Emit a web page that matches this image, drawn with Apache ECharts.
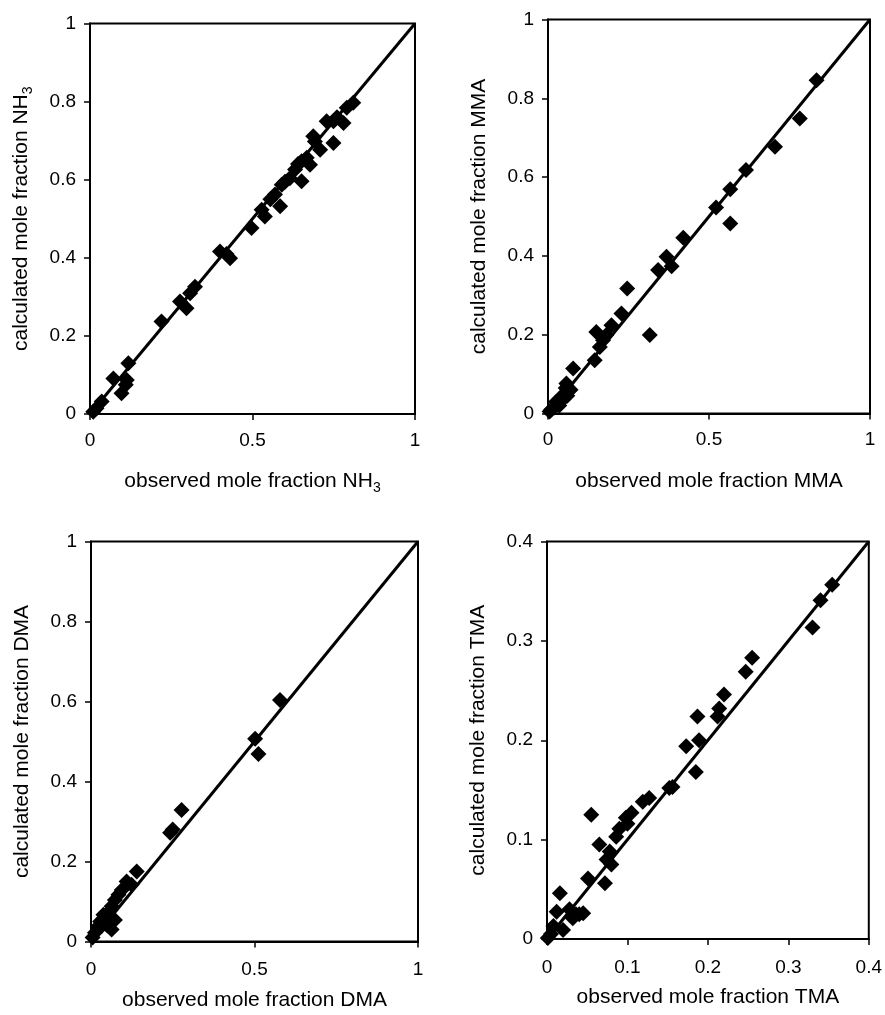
<!DOCTYPE html>
<html>
<head>
<meta charset="utf-8">
<script src="https://cdn.jsdelivr.net/npm/echarts@6/dist/echarts.min.js"></script>
<style>
html,body{margin:0;padding:0;background:#fff;}
#chart{width:885px;height:1015px;}
</style>
</head>
<body>
<div id="chart"></div>
<script>
// ---- Data ----
const nh3Obs  = [0.01,0.02,0.036,0.072,0.097,0.113,0.118,0.11,0.22,0.277,0.297,0.308,0.323,0.40,0.431,0.42,0.497,0.528,0.538,0.569,0.585,0.59,0.615,0.60,0.631,0.651,0.651,0.667,0.677,0.687,0.692,0.708,0.728,0.749,0.749,0.76,0.78,0.79,0.81,0.64,0.555];
const nh3Calc = [0.006,0.015,0.032,0.091,0.053,0.087,0.13,0.075,0.237,0.288,0.271,0.309,0.326,0.416,0.399,0.41,0.476,0.523,0.506,0.562,0.532,0.587,0.604,0.595,0.626,0.647,0.596,0.656,0.638,0.711,0.698,0.677,0.75,0.75,0.694,0.76,0.745,0.784,0.797,0.64,0.55];

const mmaObs  = [0.005,0.01,0.02,0.03,0.04,0.05,0.057,0.067,0.078,0.145,0.161,0.171,0.181,0.15,0.197,0.228,0.246,0.316,0.342,0.368,0.384,0.42,0.522,0.566,0.566,0.615,0.705,0.782,0.834,0.035,0.045,0.06,0.07,0.055,0.025];
const mmaCalc = [0.005,0.01,0.015,0.025,0.04,0.05,0.076,0.059,0.114,0.135,0.169,0.186,0.199,0.207,0.224,0.254,0.317,0.199,0.364,0.398,0.374,0.446,0.523,0.569,0.482,0.618,0.677,0.749,0.846,0.02,0.035,0.045,0.06,0.065,0.03];

const dmaObs  = [0.005,0.012,0.022,0.028,0.038,0.042,0.052,0.063,0.073,0.084,0.094,0.109,0.124,0.14,0.242,0.25,0.277,0.502,0.512,0.578,0.063,0.073,0.05,0.032];
const dmaCalc = [0.01,0.022,0.038,0.05,0.067,0.055,0.072,0.088,0.104,0.117,0.129,0.15,0.142,0.175,0.272,0.28,0.329,0.507,0.469,0.604,0.03,0.054,0.04,0.038];

const tmaObs  = [0.001,0.005,0.008,0.02,0.012,0.016,0.032,0.036,0.045,0.051,0.072,0.074,0.08,0.078,0.055,0.065,0.086,0.09,0.098,0.105,0.119,0.127,0.152,0.156,0.185,0.173,0.189,0.187,0.212,0.214,0.22,0.247,0.255,0.33,0.34,0.3545,0.1,0.028,0.04];
const tmaCalc = [0.001,0.005,0.013,0.009,0.0275,0.046,0.021,0.025,0.026,0.061,0.056,0.08,0.075,0.088,0.125,0.095,0.103,0.111,0.122,0.127,0.138,0.142,0.152,0.153,0.168,0.194,0.2,0.224,0.224,0.232,0.246,0.269,0.283,0.3135,0.341,0.3565,0.116,0.03,0.025];

// 1:1 reference lines
const diagUnit = [0, 1];
const diagTma  = [0, 0.4];

// Species names used in axis titles
const species = ['NH3','MMA','DMA','TMA'];

// ---- Build ----
const font = 'Liberation Sans, Arial, Helvetica, sans-serif';
const zip = (a, b) => a.map((v, i) => [v, b[i]]);

const grids = [
  {left: 90,  top: 23.5, width: 325, height: 390.5},
  {left: 548, top: 19.5, width: 322, height: 394},
  {left: 91,  top: 541.5, width: 327, height: 400},
  {left: 547, top: 541.5, width: 323, height: 397.5}
].map(g => Object.assign(g, {show: true, borderColor: '#000', borderWidth: 2, backgroundColor: 'transparent', containLabel: false}));

const ranges = [
  {max: 1, xi: 0.5, yi: 0.2},
  {max: 1, xi: 0.5, yi: 0.2},
  {max: 1, xi: 0.5, yi: 0.2},
  {max: 0.4, xi: 0.1, yi: 0.1}
];

const FS = 19;   // tick labels
const NS = 21;   // axis titles
const rich = {
  n: {fontFamily: font, fontSize: NS, color: '#000'},
  s: {fontFamily: font, fontSize: 14, color: '#000', verticalAlign: 'bottom', padding: [0,0,-3,0]}
};
function nameText(prefix, sp) {
  const m = sp.match(/^(.*?)(\d)$/);
  if (m) return '{n|' + prefix + m[1] + '}{s|' + m[2] + '}';
  return '{n|' + prefix + sp + '}';
}

const axisCommon = {
  type: 'value', min: 0,
  axisLine: {show: true, onZero: false, lineStyle: {color: '#000', width: 2}},
  axisTick: {show: true, inside: false, length: 6, lineStyle: {color: '#000', width: 1.5}},
  axisLabel: {color: '#000', fontFamily: font, fontSize: FS},
  splitLine: {show: false},
  nameLocation: 'middle',
  nameTextStyle: {rich: rich}
};

const xGap = [57, 57, 48, 48];
const xLabelMargin = [17, 17, 19, 19];
const xAxis = ranges.map((r, i) => Object.assign({}, axisCommon, {
  gridIndex: i, max: r.max, interval: r.xi,
  axisLabel: Object.assign({}, axisCommon.axisLabel, {margin: xLabelMargin[i]}),
  name: nameText('observed mole fraction ', species[i]),
  nameGap: xGap[i]
}));
const yAxis = ranges.map((r, i) => Object.assign({}, axisCommon, {
  gridIndex: i, max: r.max, interval: r.yi,
  axisLabel: Object.assign({}, axisCommon.axisLabel, {margin: 14}),
  name: nameText('calculated mole fraction ', species[i]),
  nameRotate: 90,
  nameGap: 58
}));

const obs = [nh3Obs, mmaObs, dmaObs, tmaObs];
const calc = [nh3Calc, mmaCalc, dmaCalc, tmaCalc];
const diags = [diagUnit, diagUnit, diagUnit, diagTma];

const series = [];
for (let i = 0; i < 4; i++) {
  series.push({
    type: 'line', xAxisIndex: i, yAxisIndex: i,
    data: zip(diags[i], diags[i]),
    symbol: 'none', lineStyle: {color: '#000', width: 3}, z: 2, silent: true, animation: false
  });
  series.push({
    type: 'scatter', xAxisIndex: i, yAxisIndex: i,
    data: zip(obs[i], calc[i]),
    symbol: 'diamond', symbolSize: [16, 16],
    itemStyle: {color: '#000', opacity: 1}, clip: false, z: 3, animation: false
  });
}

const chart = echarts.init(document.getElementById('chart'), null, {renderer: 'canvas'});
chart.setOption({
  backgroundColor: '#fff',
  animation: false,
  grid: grids,
  xAxis: xAxis,
  yAxis: yAxis,
  series: series
});
</script>
</body>
</html>
